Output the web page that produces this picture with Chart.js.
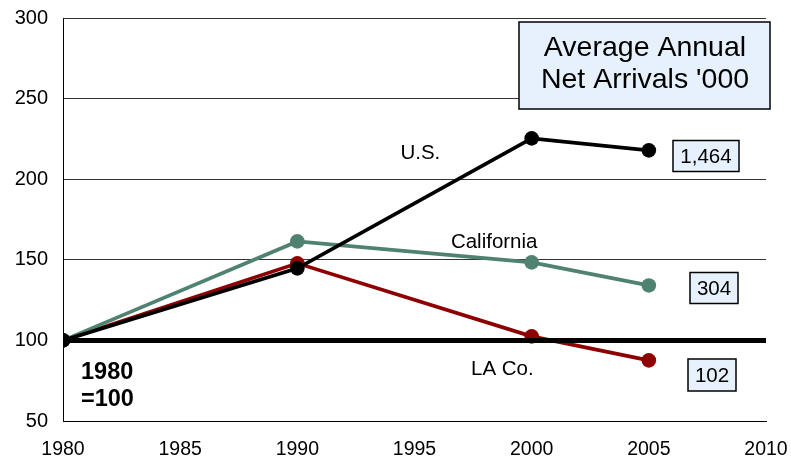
<!DOCTYPE html>
<html>
<head>
<meta charset="utf-8">
<script src="https://cdn.jsdelivr.net/npm/chart.js@4.4.0/dist/chart.umd.min.js"></script>
<style>
  html, body { margin: 0; padding: 0; background: #fff; }
  #wrap { width: 791px; height: 464px; }
</style>
</head>
<body>
<div id="wrap"><canvas id="myChart"></canvas></div>
<script>
// index, 1980 = 100
const years = [1980, 1990, 2000, 2005];
const usValues = [100, 144.7, 225.3, 217.9];
const caValues = [100, 161.4, 148.4, 134.1];
const laValues = [100, 147.8, 102.5, 87.6];
const baseYears = [1980, 2010];
const baseValues = [100, 100];
const arrivals = ["1,464", "304", "102"];
const seriesNames = ["U.S.", "California", "LA Co."];

const font = "Liberation Sans, Arial, sans-serif";

function toXY(xs, ys) {
  return xs.map((x, i) => ({ x: x, y: ys[i] }));
}

function lineSet(label, values, color) {
  return {
    label: label,
    data: toXY(years, values),
    borderColor: color,
    backgroundColor: color,
    borderWidth: 3.7,
    pointRadius: 7.3,
    pointHoverRadius: 7.3,
    pointBorderWidth: 0,
  };
}

// labels and boxes drawn on top
const notes = {
  id: "notes",
  afterDatasetsDraw(chart) {
    const ctx = chart.ctx;
    const xs = chart.scales.x;
    const ys = chart.scales.y;
    ctx.save();
    ctx.textAlign = "center";
    ctx.textBaseline = "middle";
    ctx.fillStyle = "#000";

    // series names
    ctx.font = "20.5px " + font;
    ctx.fillText(seriesNames[0], xs.getPixelForValue(1995.25), ys.getPixelForValue(216));
    ctx.fillText(seriesNames[1], xs.getPixelForValue(1998.4), ys.getPixelForValue(161));
    ctx.fillText(seriesNames[2], xs.getPixelForValue(1998.75), ys.getPixelForValue(82));

    // arrival boxes
    const boxes = [
      { cx: 706, cy: 156, w: 66, h: 31 },
      { cx: 714, cy: 288, w: 48, h: 31 },
      { cx: 712, cy: 375, w: 48, h: 32 },
    ];
    ctx.font = "20.5px " + font;
    boxes.forEach((b, i) => {
      ctx.fillStyle = "#e6f1fd";
      ctx.fillRect(b.cx - b.w / 2, b.cy - b.h / 2, b.w, b.h);
      ctx.lineWidth = 1.5;
      ctx.strokeStyle = "#000";
      ctx.strokeRect(b.cx - b.w / 2, b.cy - b.h / 2, b.w, b.h);
      ctx.fillStyle = "#000";
      ctx.fillText(arrivals[i], b.cx, b.cy + 1);
    });

    // title box
    ctx.fillStyle = "#e6f1fd";
    ctx.fillRect(519, 22, 251, 87);
    ctx.lineWidth = 1.5;
    ctx.strokeStyle = "#000";
    ctx.strokeRect(519, 22, 251, 87);
    ctx.fillStyle = "#000";
    ctx.font = "28.5px " + font;
    ctx.fillText("Average Annual", 645, 48);
    ctx.fillText("Net Arrivals '000", 645, 80);

    // base note
    ctx.textAlign = "left";
    ctx.font = "bold 23.5px " + font;
    ctx.fillText("1980", 81, 373);
    ctx.fillText("=100", 81, 400);
    ctx.restore();
  },
};

new Chart(document.getElementById("myChart"), {
  type: "line",
  data: {
    datasets: [
      {
        label: "base",
        data: toXY(baseYears, baseValues),
        borderColor: "#000",
        borderWidth: 5,
        pointRadius: 0,
        borderCapStyle: "round",
      },
      lineSet("U.S.", usValues, "#000000"),
      lineSet("California", caValues, "#4f8270"),
      lineSet("LA Co.", laValues, "#8e0000"),
    ],
  },
  options: {
    responsive: true,
    maintainAspectRatio: false,
    animation: false,
    layout: { padding: { top: 18, right: 25, left: 0, bottom: 0 } },
    plugins: {
      legend: { display: false },
      tooltip: { enabled: false },
    },
    scales: {
      x: {
        type: "linear",
        min: 1980,
        max: 2010,
        ticks: {
          stepSize: 5,
          color: "#000",
          font: { family: font, size: 19.5 },
          padding: 17,
          callback: (v) => String(v),
        },
        grid: { display: false, drawTicks: false },
        border: { display: true, color: "#000", width: 1 },
        afterFit: (s) => {
          s.height = 43;
          s.paddingLeft = 0;
          s.paddingRight = 0;
        },
      },
      y: {
        min: 50,
        max: 300,
        ticks: {
          stepSize: 50,
          color: "#000",
          font: { family: font, size: 20 },
          padding: 15,
        },
        grid: {
          drawTicks: false,
          color: (c) => (c.tick.value <= 100 ? "rgba(0,0,0,0)" : "#333"),
          lineWidth: 1,
        },
        border: { display: true, color: "#000", width: 1 },
        afterFit: (s) => {
          s.width = 63;
          s.paddingTop = 0;
          s.paddingBottom = 0;
        },
      },
    },
  },
  plugins: [notes],
});
</script>
</body>
</html>
